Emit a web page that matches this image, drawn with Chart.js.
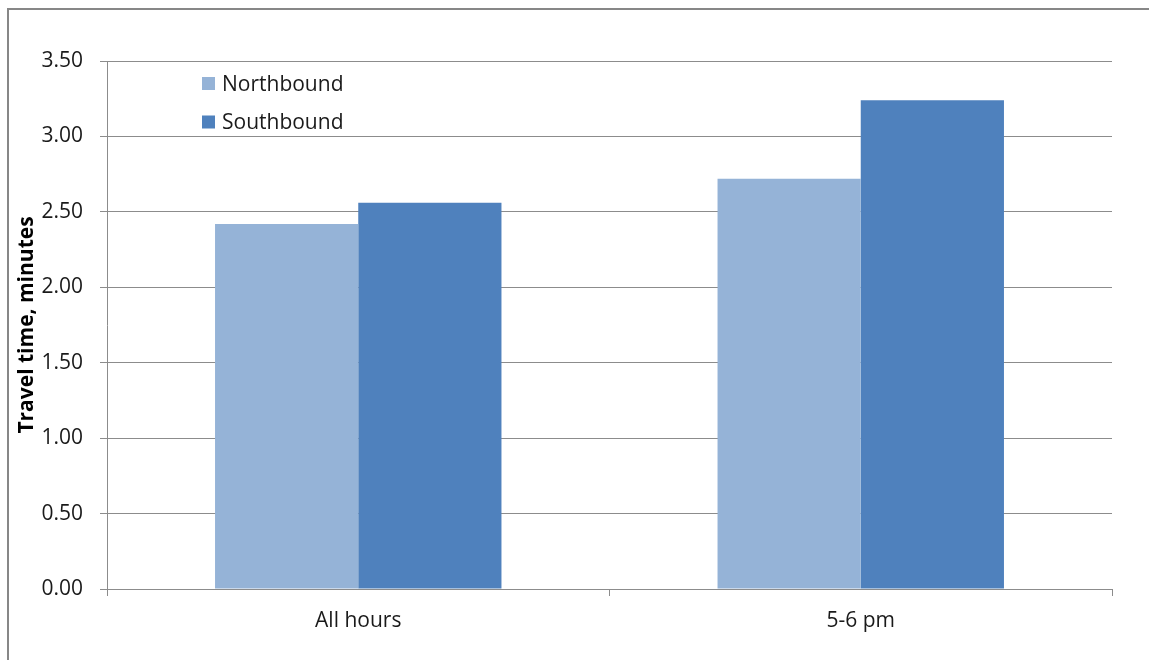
<!DOCTYPE html>
<html>
<head>
<meta charset="utf-8">
<script src="https://cdn.jsdelivr.net/npm/chart.js@4/dist/chart.umd.min.js"></script>
<style>
  html, body { margin: 0; padding: 0; background: #ffffff; overflow: hidden; }
  #wrap { position: relative; width: 1149px; height: 660px; }
  #frame {
    position: absolute; left: 7px; top: 8px; width: 2000px; height: 2000px;
    border-left: 2px solid #878787; border-top: 2px solid #878787;
    pointer-events: none;
  }
  canvas { display: block; }
</style>
</head>
<body>
<div id="wrap">
  <canvas id="chart" width="1149" height="660"></canvas>
  <div id="frame"></div>
</div>
<script>
// Average travel time by direction
const categories = ['All hours', '5-6 pm'];
const seriesNames = ['Northbound', 'Southbound'];
const northbound = [2.42, 2.72];
const southbound = [2.56, 3.24];
const seriesColors = ['#95B3D7', '#4F81BD'];
const yTitle = 'Travel time, minutes';

const FONT = "'Open Sans', 'DejaVu Sans', sans-serif";
const GRID = '#8c8c8c';

// Legend boxes drawn inside the plot area, upper left
const innerLegend = {
  id: 'innerLegend',
  afterDraw(chart) {
    const { ctx, chartArea } = chart;
    const x0 = chartArea.left + 95;
    const y0 = chartArea.top + 23;
    const gap = 38.5;
    ctx.save();
    ctx.font = '21px ' + FONT;
    ctx.textBaseline = 'middle';
    ctx.textAlign = 'left';
    chart.data.datasets.forEach((ds, i) => {
      const cy = y0 + i * gap;
      ctx.fillStyle = ds.backgroundColor;
      ctx.fillRect(x0, cy - 7, 13, 13);
      ctx.fillStyle = '#1a1a1a';
      ctx.fillText(ds.label, x0 + 20, cy + 1);
    });
    ctx.restore();
  }
};

new Chart(document.getElementById('chart'), {
  type: 'bar',
  data: {
    labels: categories,
    datasets: [
      { label: seriesNames[0], data: northbound, backgroundColor: seriesColors[0] },
      { label: seriesNames[1], data: southbound, backgroundColor: seriesColors[1] }
    ]
  },
  options: {
    responsive: false,
    animation: false,
    devicePixelRatio: 1,
    layout: { padding: { top: 61, right: 37, bottom: 0, left: 0 } },
    datasets: { bar: { categoryPercentage: 0.57, barPercentage: 1.0, borderWidth: 0 } },
    plugins: { legend: { display: false }, tooltip: { enabled: false } },
    scales: {
      x: {
        grid: { drawOnChartArea: false, drawTicks: true, tickLength: 7, color: GRID, offset: true },
        border: { display: true, color: GRID, width: 1 },
        ticks: { color: '#1a1a1a', font: { family: FONT, size: 21 }, padding: 12 },
        afterFit(scale) { scale.height = 71; }
      },
      y: {
        min: 0, max: 3.5,
        grid: { color: GRID, lineWidth: 1, drawTicks: true, tickLength: 7 },
        border: { display: true, color: GRID, width: 1 },
        ticks: {
          stepSize: 0.5,
          color: '#1a1a1a',
          font: { family: FONT, size: 21 },
          padding: 17,
          callback: v => Number(v).toFixed(2)
        },
        title: {
          display: true,
          text: yTitle,
          color: '#000000',
          font: { family: FONT, size: 21, weight: 'bold' },
          padding: { top: 14, bottom: 0 }
        },
        afterFit(scale) { scale.width = 107; }
      }
    }
  },
  plugins: [innerLegend]
});
</script>
</body>
</html>
